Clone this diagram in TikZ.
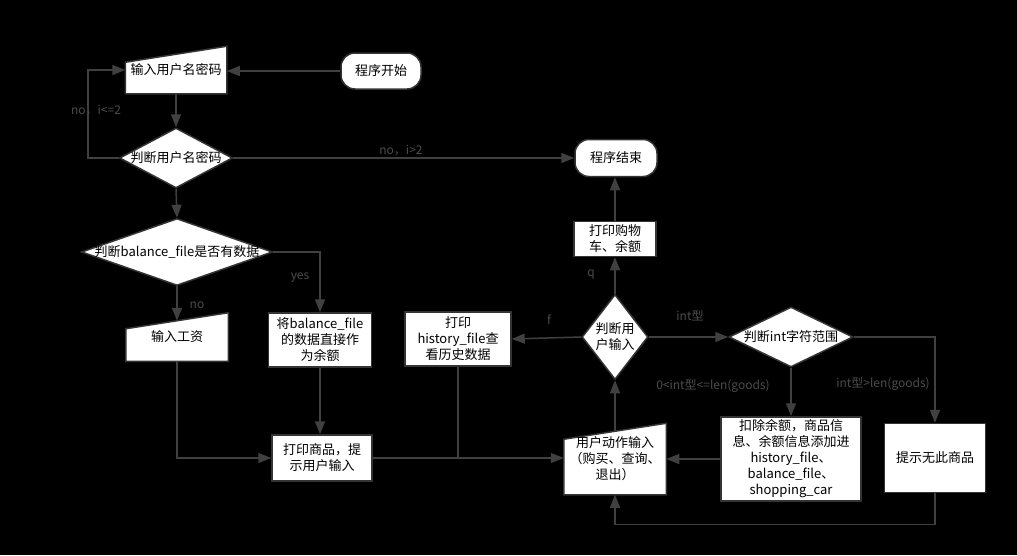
\documentclass[tikz,border=0pt]{standalone}
\usepackage{fontspec}
\setmainfont{Noto Sans CJK SC}
\usetikzlibrary{shapes.geometric, arrows.meta}

\definecolor{linegray}{RGB}{64,64,64}
\definecolor{edgegray}{RGB}{52,52,52}
\definecolor{labelgray}{RGB}{76,76,76}

\makeatletter
\pgfdeclareshape{manual input}{%
  \inheritsavedanchors[from=rectangle]%
  \inheritanchorborder[from=rectangle]%
  \inheritanchor[from=rectangle]{center}%
  \inheritanchor[from=rectangle]{north}%
  \inheritanchor[from=rectangle]{south}%
  \inheritanchor[from=rectangle]{east}%
  \inheritanchor[from=rectangle]{west}%
  \inheritanchor[from=rectangle]{north east}%
  \inheritanchor[from=rectangle]{north west}%
  \inheritanchor[from=rectangle]{south east}%
  \inheritanchor[from=rectangle]{south west}%
  \backgroundpath{%
    \southwest \pgf@xa=\pgf@x \pgf@ya=\pgf@y
    \northeast \pgf@xb=\pgf@x \pgf@yb=\pgf@y
    \pgfpathmoveto{\pgfqpoint{\pgf@xa}{\pgf@ya}}%
    \pgfpathlineto{\pgfqpoint{\pgf@xb}{\pgf@ya}}%
    \pgfpathlineto{\pgfqpoint{\pgf@xb}{\pgf@yb}}%
    \advance\pgf@yb by -16pt
    \pgfpathlineto{\pgfqpoint{\pgf@xa}{\pgf@yb}}%
    \pgfpathclose
  }%
}
\makeatother

\begin{document}
\begin{tikzpicture}[x=1pt, y=-1pt,
        box/.style={draw=edgegray, line width=1.5pt, fill=white, text=black, align=center, inner sep=2pt, font=\fontsize{13}{16}\selectfont},
        term/.style={box, rounded corners=14pt},
        decision/.style={box, diamond, inner sep=0pt},
        manual/.style={box, shape=manual input},
        flow/.style={draw=linegray, line width=1.5pt, -{Triangle[length=13pt, width=10pt]}},
        link/.style={draw=linegray, line width=1.5pt},
        lbl/.style={text=labelgray, font=\fontsize{12}{14}\selectfont}]

        \fill [black] (0,0) rectangle (1017,555);

        \node (start) [term, minimum width=80pt, minimum height=36pt] at (381,71) {程序开始};
        \node (login) [manual, minimum width=100pt, minimum height=46pt] at (176,70) {输入用户名密码};
        \node (check) [decision, inner xsep=-2pt, minimum width=113pt, minimum height=60pt, shape aspect=1.88] at (176,158) {判断用户名密码};
        \node (finish) [term, minimum width=82pt, minimum height=37pt] at (616,158) {程序结束};

        \node (balance) [decision, inner xsep=-6pt, minimum width=191pt, minimum height=67pt, shape aspect=2.85] at (177,252) {判断balance\_file是否有数据};
        \node (salary) [manual, minimum width=101pt, minimum height=47pt] at (177,337) {输入工资};
        \node (setbal) [box, minimum width=103pt, minimum height=54pt] at (320,340) {将balance\_file\\的数据直接作\\为余额};
        \node (goods) [box, minimum width=100pt, minimum height=46pt] at (322,458) {打印商品，提\\示用户输入};

        \node (action) [manual, minimum width=101pt, minimum height=70pt] at (615,459) {用户动作输入\\（购买、查询、\\退出）};
        \node (choice) [decision, minimum width=66pt, minimum height=85pt, shape aspect=0.78] at (615,337) {判断用\\户输入};
        \node (history) [box, minimum width=106pt, minimum height=54pt] at (458,339) {打印\\history\_file查\\看历史数据};
        \node (cart) [box, minimum width=82pt, minimum height=35pt] at (615,239) {打印购物\\车、余额};

        \node (range) [decision, minimum width=124pt, minimum height=60pt, shape aspect=2.07] at (791,337) {判断int字符范围};
        \node (buy) [box, minimum width=140pt, minimum height=84pt] at (791,459) {扣除余额，商品信\\息、余额信息添加进\\history\_file、\\balance\_file、\\shopping\_car};
        \node (nogoods) [box, minimum width=101pt, minimum height=69pt] at (935,458) {提示无此商品};

        \draw [flow] (start.west) -- (start.west -| login.east);
        \draw [flow] (login.south) -- (check.north);
        \draw [flow] (check.west) -- ++(-31,0) |- (login.west);
        \draw [flow] (check.east) -- (finish.west);
        \draw [flow] (check.south) -- (balance.north);

        \draw [flow] (balance.south) -- ([yshift=-8pt]salary.north);
        \draw [flow] (balance.east) -| (setbal.north);
        \draw [flow] (salary.south) |- (goods.west);
        \draw [flow] (setbal.south) -- (setbal.south |- goods.north);
        \draw [flow] (goods.east) -- (goods.east -| action.west);
        \draw [link] (history.south) -- (history.south |- goods.east);

        \draw [flow] ([yshift=-8pt]action.north) -- (choice.south);
        \draw [flow] (choice.west) -- (history.east);
        \draw [flow] (choice.north) -- (cart.south);
        \draw [flow] (cart.north) -- (cart.north |- finish.south);
        \draw [flow] (choice.east) -- (range.west);

        \draw [flow] (range.south) -- (buy.north);
        \draw [flow] (range.east) -| (nogoods.north);
        \draw [flow] (buy.west) -- (buy.west -| action.east);
        \draw [flow] (nogoods.south) -- ++(0,31) -| (action.south);

        \node (retrylabel) [lbl] at (96,110) {no，i<=2};
        \node (quitlabel) [lbl] at (401,150) {no，i>2};
        \node (yeslabel) [lbl] at (300,278) {yes};
        \node (nolabel) [lbl] at (197,305) {no};
        \node (qlabel) [lbl] at (591,275) {q};
        \node (flabel) [lbl] at (549,320) {f};
        \node (intlabel) [lbl] at (690,316) {int型};
        \node (inrangelabel) [lbl] at (713,386) {0<int型<=len(goods)};
        \node (outrangelabel) [lbl] at (883,384) {int型>len(goods)};
    \end{tikzpicture}
\end{document}
